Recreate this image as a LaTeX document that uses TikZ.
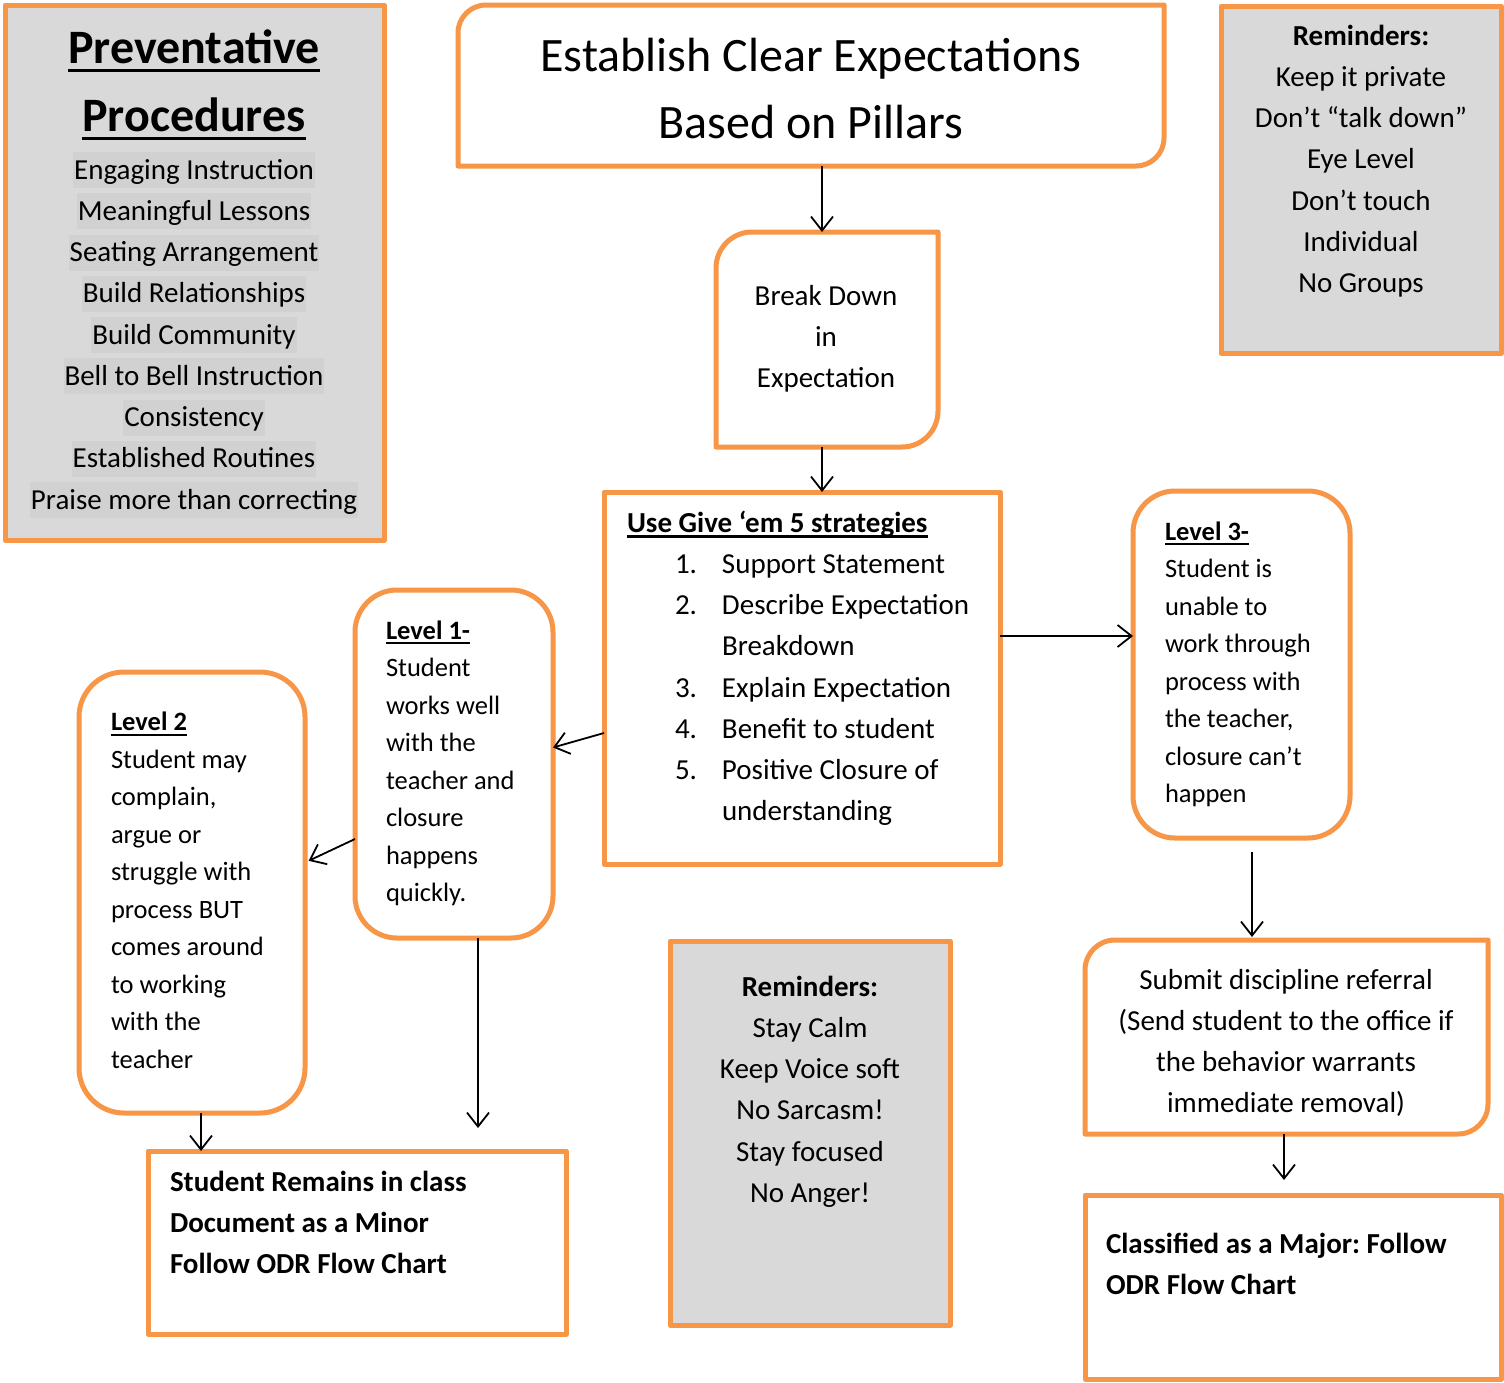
\documentclass[tikz,border=0pt]{standalone}
\usepackage{fontspec}
\setmainfont{Carlito}
\usetikzlibrary{arrows.meta}
\frenchspacing

\definecolor{orng}{HTML}{F79646}
\definecolor{boxgray}{HTML}{D9D9D9}
\definecolor{hlgray}{HTML}{D1D1D1}

% underline at a fixed depth below the baseline
\newcommand\undl[1]{\setbox0=\hbox{#1}\rlap{\rule[-0.19em]{\wd0}{0.07em}}\box0}

% orange frame with rounded top-left and bottom-right corners
\newcommand\tlbrframe[2]{\draw[obox, rounded corners=#2] (#1.west) -- (#1.north west) -- (#1.north)
  [sharp corners] -- (#1.north east) -- (#1.east)
  [rounded corners=#2] -- (#1.south east) -- (#1.south)
  [sharp corners] -- (#1.south west) -- cycle;}

\begin{document}
\begin{tikzpicture}[x=1pt, y=-1pt,
  every node/.style={inner sep=0pt, outer sep=0pt},
  obox/.style={draw=orng, line width=5pt, line join=round},
  graybox/.style={obox, fill=boxgray},
  pill/.style={obox, rounded corners=#1},
  slot/.style={inner sep=0pt, outer sep=0pt},
  maintext/.style={font=\fontsize{29}{41.25}\selectfont},
  boldtext/.style={font=\bfseries\fontsize{29}{41.25}\selectfont},
  lvtext/.style={font=\fontsize{26.5}{37.5}\selectfont},
  hl/.style={maintext, fill=hlgray, inner xsep=1pt, inner ysep=0pt, text height=27pt, text depth=9pt},
  arr/.style={line width=1.8pt, -{Straight Barb[length=14pt,width=22pt]}}
]
\fill[white] (0,0) rectangle (1504,1382);
\useasboundingbox (0,0) rectangle (1504,1382);

% ---- boxes ----
\node[graybox, minimum width=379pt, minimum height=535pt] (prev) at (194.5,272.5) {};
\node[slot, minimum width=706pt, minimum height=161pt] (est) at (811,85.5) {};
\tlbrframe{est}{28pt}
\node[graybox, minimum width=280pt, minimum height=347pt] (remtop) at (1361,179.5) {};
\node[slot, minimum width=222pt, minimum height=215pt] (brk) at (827,339.5) {};
\tlbrframe{brk}{36pt}
\node[obox, minimum width=396pt, minimum height=372pt] (g5) at (802,678) {};
\node[pill=42pt, minimum width=217pt, minimum height=347pt] (lv3) at (1241.5,664.5) {};
\node[pill=42pt, minimum width=198pt, minimum height=348pt] (lv1) at (454,764) {};
\node[pill=45pt, minimum width=226pt, minimum height=441pt] (lv2) at (192,892.5) {};
\node[obox, minimum width=418pt, minimum height=183pt] (rem) at (357,1242.5) {};
\node[graybox, minimum width=280pt, minimum height=384pt] (remmid) at (810,1133) {};
\node[slot, minimum width=403pt, minimum height=194pt] (sub) at (1286.5,1037) {};
\tlbrframe{sub}{30pt}
\node[obox, minimum width=416pt, minimum height=184pt] (cls) at (1293,1287) {};

% ---- texts (multi-line nodes sit on the baseline of their last line) ----
\node[anchor=base, align=center, font=\bfseries\fontsize{48}{68}\selectfont] (prevT) at (194,131)
  {\undl{Preventative}\\\undl{Procedures}};
\node[hl, anchor=base] (p1) at (194,179) {Engaging Instruction};
\node[hl, anchor=base] (p2) at (194,220.25) {Meaningful Lessons};
\node[hl, anchor=base] (p3) at (194,261.5) {Seating Arrangement};
\node[hl, anchor=base] (p4) at (194,302.75) {Build Relationships};
\node[hl, anchor=base] (p5) at (194,344) {Build Community};
\node[hl, anchor=base] (p6) at (194,385.25) {Bell to Bell Instruction};
\node[hl, anchor=base] (p7) at (194,426.5) {Consistency};
\node[hl, anchor=base] (p8) at (194,467.75) {Established Routines};
\node[hl, anchor=base] (p9) at (194,509) {Praise more than correcting};

\node[anchor=base, align=center, font=\fontsize{48}{67}\selectfont] (estT) at (811,138)
  {Establish Clear Expectations\\Based on Pillars};

\node[maintext, anchor=base, align=center] (remtopT) at (1361,292.5)
  {\textbf{Reminders:}\\Keep it private\\Don’t “talk down”\\Eye Level\\Don’t touch\\Individual\\No Groups};

\node[maintext, anchor=base, align=center] (brkT) at (826,387.5)
  {Break Down\\in\\Expectation};

\node[maintext, anchor=base west, align=left] (g5T) at (627,820.75)
  {\textbf{\undl{Use Give ‘em 5 strategies}}\\
   \hspace*{48pt}\makebox[47pt][l]{1.}Support Statement\\
   \hspace*{48pt}\makebox[47pt][l]{2.}Describe Expectation\\
   \hspace*{95pt}Breakdown\\
   \hspace*{48pt}\makebox[47pt][l]{3.}Explain Expectation\\
   \hspace*{48pt}\makebox[47pt][l]{4.}Benefit to student\\
   \hspace*{48pt}\makebox[47pt][l]{5.}Positive Closure of\\
   \hspace*{95pt}understanding};

\node[lvtext, anchor=base west, align=left] (lv3T) at (1165,802.5)
  {\textbf{\undl{Level 3-}}\\Student is\\unable to\\work through\\process with\\the teacher,\\closure can’t\\happen};
\node[lvtext, anchor=base west, align=left] (lv1T) at (386,901.5)
  {\textbf{\undl{Level 1-}}\\Student\\works well\\with the\\teacher and\\closure\\happens\\quickly.};
\node[lvtext, anchor=base west, align=left] (lv2T) at (111,1068)
  {\textbf{\undl{Level 2}}\\Student may\\complain,\\argue or\\struggle with\\process BUT\\comes around\\to working\\with the\\teacher};

\node[boldtext, anchor=base west, align=left] (remT) at (170,1273.5)
  {Student Remains in class\\Document as a Minor\\Follow ODR Flow Chart};

\node[maintext, anchor=base, align=center] (remmidT) at (810,1202.25)
  {\textbf{Reminders:}\\Stay Calm\\Keep Voice soft\\No Sarcasm!\\Stay focused\\No Anger!};

\node[maintext, anchor=base, align=center] (subT) at (1286,1112.75)
  {Submit discipline referral\\(Send student to the office if\\the behavior warrants\\immediate removal)};

\node[boldtext, anchor=base west, align=left] (clsT) at (1106,1294.25)
  {Classified as a Major: Follow\\ODR Flow Chart};

% ---- connectors ----
\coordinate (lv1end) at (478,1128);
\draw[arr] ([xshift=11pt]est.south) -- ([xshift=-5pt]brk.north);
\draw[arr] ([xshift=-5pt]brk.south) -- ([xshift=20pt]g5.north);
\draw[arr] ([yshift=42pt]g5.east) -- ([yshift=28.5pt]lv3.west);
\draw[arr] ([yshift=-55pt]g5.west) -- ([yshift=16.5pt]lv1.east);
\draw[arr, shorten >=4pt] ([yshift=-75pt]lv1.west) -- ([yshift=30pt]lv2.east);
\draw[arr] ([xshift=24pt]lv1.south) -- (lv1end);
\draw[arr] ([xshift=9pt]lv2.south) -- ([xshift=-156pt]rem.north);
\draw[arr, shorten <=14pt, shorten >=3pt] ([xshift=10.5pt]lv3.south) -- ([xshift=-34.5pt]sub.north);
\draw[arr, shorten >=15pt] ([xshift=-2.5pt]sub.south) -- ([xshift=-9pt]cls.north);
\end{tikzpicture}
\end{document}
